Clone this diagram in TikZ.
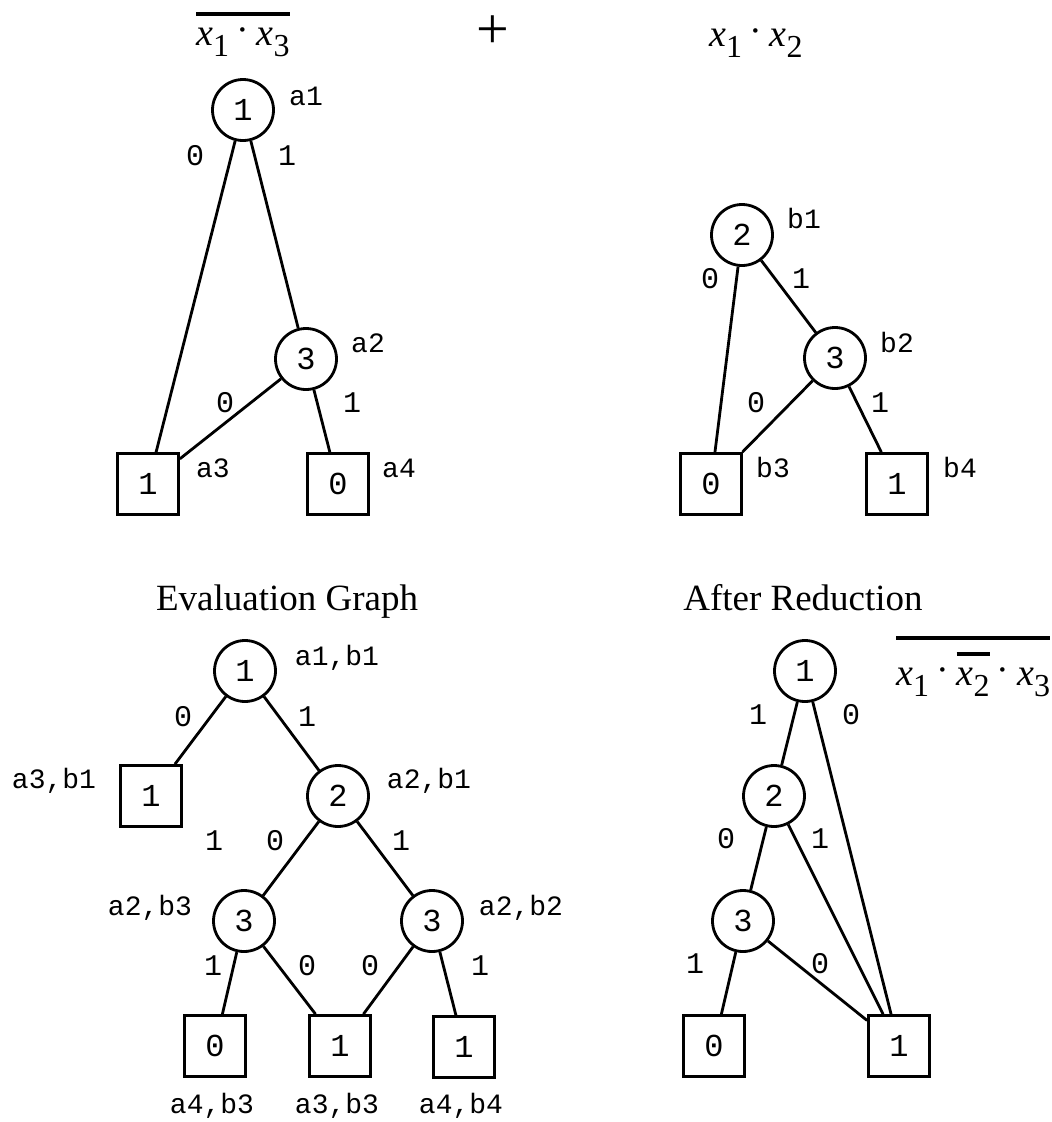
\documentclass[tikz,border=0pt]{standalone}
\usepackage{fontspec}
\setmainfont{Liberation Serif}
\newfontfamily\monofam{Liberation Mono}
\newcommand\vx{\textit{x}}
\newcommand\sbs[1]{\raisebox{-11pt}{\fontsize{32}{32}\selectfont #1}}
\newcommand\cdt{\kern7pt\raisebox{3pt}{·}\kern8pt}
\newcommand\ovl[2]{\vbox{\hrule height 4pt\kern#1\hbox{#2}}}
\begin{document}
\begin{tikzpicture}[x=1pt,y=-1pt,
  vert/.style={circle,draw,line width=2.8pt,minimum size=61pt,inner sep=0pt,font=\monofam\fontsize{32}{32}\selectfont},
  term/.style={rectangle,draw,line width=2.8pt,minimum size=61pt,inner sep=0pt,font=\monofam\fontsize{32}{32}\selectfont},
  lbl/.style={anchor=base,inner sep=0pt,font=\monofam\fontsize{28}{28}\selectfont},
  elbl/.style={anchor=base,inner sep=0pt,font=\monofam\fontsize{30}{30}\selectfont},
  title/.style={anchor=base,inner sep=0pt,font=\fontsize{37}{37}\selectfont},
  formula/.style={anchor=base west,inner sep=0pt,font=\fontsize{38}{38}\selectfont},
  conn/.style={line width=2.8pt}]
\useasboundingbox (0,0) rectangle (1052,1122);

% ---------- top formulas ----------
\node[formula] (fa) at (196,45) {\ovl{11pt}{\vx\sbs{1}\cdt\vx\sbs{3}}};
\node[anchor=center,inner sep=0pt,font=\fontsize{58}{58}\selectfont] (plus) at (493,32) {+};
\node[formula] (fb) at (709,46) {\vx\sbs{1}\cdt\vx\sbs{2}};

% ---------- top-left graph ----------
\node[vert] (a1) at (243,110) {1};
\node[vert] (a2) at (306,359) {3};
\node[term] (a3) at (148,484) {1};
\node[term] (a4) at (338,484) {0};
\node[lbl] (la1) at (306,105) {a1};
\node[lbl] (la2) at (368,352) {a2};
\node[lbl] (la3) at (213,477) {a3};
\node[lbl] (la4) at (399,477) {a4};
\node[elbl] (ea10) at (195,165) {0};
\node[elbl] (ea11) at (287,165) {1};
\node[elbl] (ea20) at (225,412) {0};
\node[elbl] (ea21) at (352,412) {1};
\draw[conn] (a1) -- (a3);
\draw[conn] (a1) -- (a2);
\draw[conn] (a2) -- (a3);
\draw[conn] (a2) -- (a4);

% ---------- top-right graph ----------
\node[vert] (b1) at (742,235) {2};
\node[vert] (b2) at (835,358) {3};
\node[term] (b3) at (711,484) {0};
\node[term] (b4) at (897,484) {1};
\node[lbl] (lb1) at (804,228) {b1};
\node[lbl] (lb2) at (897,352) {b2};
\node[lbl] (lb3) at (773,477) {b3};
\node[lbl] (lb4) at (960,477) {b4};
\node[elbl] (eb10) at (710,288) {0};
\node[elbl] (eb11) at (801,288) {1};
\node[elbl] (eb20) at (756,412) {0};
\node[elbl] (eb21) at (880,412) {1};
\draw[conn] (b1) -- (b3);
\draw[conn] (b1) -- (b2);
\draw[conn] (b2) -- (b3);
\draw[conn] (b2) -- (b4);

% ---------- evaluation graph ----------
\node[title] (te) at (287,610) {Evaluation Graph};
\node[vert] (e1) at (245,671) {1};
\node[term] (et1) at (151,796) {1};
\node[vert] (e2) at (338,796) {2};
\node[vert] (e3l) at (244,921) {3};
\node[vert] (e3r) at (432,921) {3};
\node[term] (et0) at (215,1046) {0};
\node[term] (etm) at (340,1046) {1};
\node[term] (etr) at (464,1047) {1};
\node[lbl] (le1) at (337,665) {a1,b1};
\node[lbl] (le2) at (54,788) {a3,b1};
\node[lbl] (le3) at (429,788) {a2,b1};
\node[lbl] (le4) at (150,915) {a2,b3};
\node[lbl] (le5) at (521,915) {a2,b2};
\node[lbl] (le6) at (212,1113) {a4,b3};
\node[lbl] (le7) at (337,1113) {a3,b3};
\node[lbl] (le8) at (461,1113) {a4,b4};
\node[elbl] (ee1) at (183,726) {0};
\node[elbl] (ee2) at (307,726) {1};
\node[elbl] (ee3) at (214,850) {1};
\node[elbl] (ee4) at (275,850) {0};
\node[elbl] (ee5) at (401,850) {1};
\node[elbl] (ee6) at (213,975) {1};
\node[elbl] (ee7) at (307,975) {0};
\node[elbl] (ee8) at (370,975) {0};
\node[elbl] (ee9) at (480,975) {1};
\draw[conn] (e1) -- (et1);
\draw[conn] (e1) -- (e2);
\draw[conn] (e2) -- (e3l);
\draw[conn] (e2) -- (e3r);
\draw[conn] (e3l) -- (et0);
\draw[conn] (e3l) -- (etm);
\draw[conn] (e3r) -- (etm);
\draw[conn] (e3r) -- (etr);

% ---------- after reduction ----------
\node[title] (tr) at (803,610) {After Reduction};
\node[formula] (fr) at (896,685) {\ovl{12pt}{\vx\sbs{1}\cdt\ovl{12pt}{\vx\sbs{2}}\cdt\vx\sbs{3}}};
\node[vert] (r1) at (805,671) {1};
\node[vert] (r2) at (774,796) {2};
\node[vert] (r3) at (743,921) {3};
\node[term] (rt0) at (714,1046) {0};
\node[term] (rt1) at (899,1046) {1};
\node[elbl] (er1) at (758,724) {1};
\node[elbl] (er2) at (851,724) {0};
\node[elbl] (er3) at (726,848) {0};
\node[elbl] (er4) at (820,848) {1};
\node[elbl] (er5) at (695,973) {1};
\node[elbl] (er6) at (820,973) {0};
\draw[conn] (r1) -- (r2);
\draw[conn] (r1) -- (rt1);
\draw[conn] (r2) -- (r3);
\draw[conn] (r2) -- (rt1);
\draw[conn] (r3) -- (rt0);
\draw[conn] (r3) -- (rt1);
\end{tikzpicture}
\end{document}
